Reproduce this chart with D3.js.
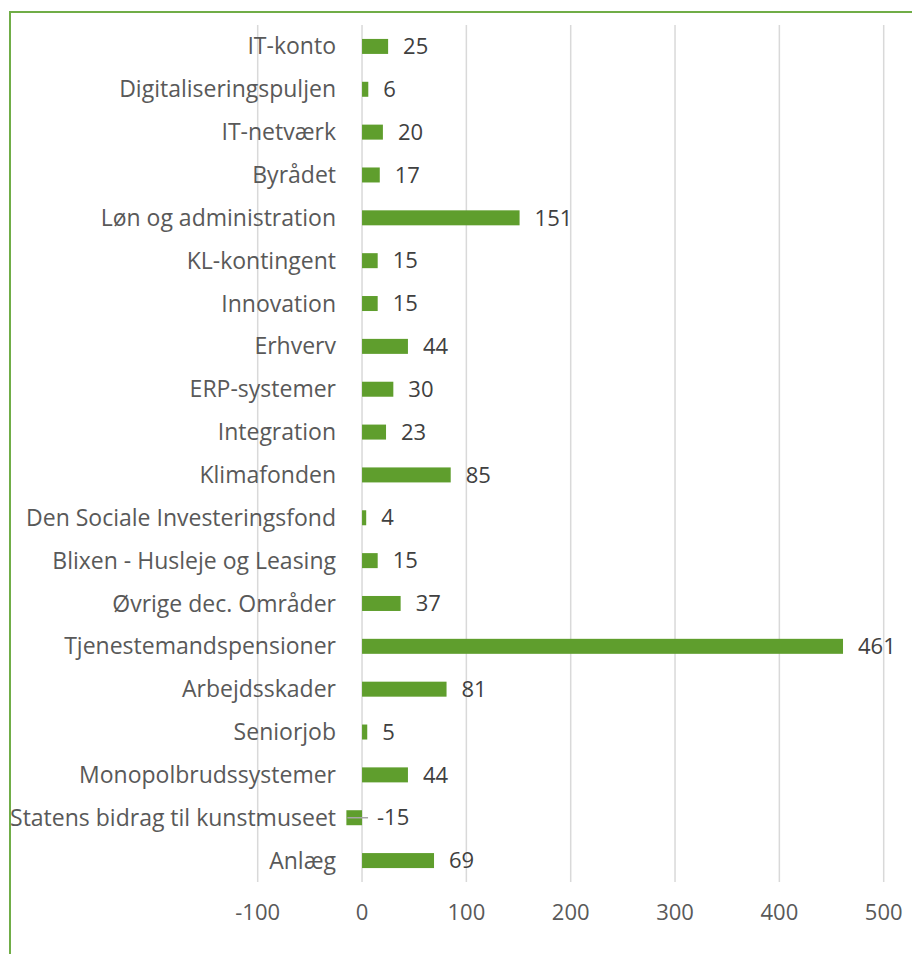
<!DOCTYPE html>
<html>
<head>
<meta charset="utf-8">
<script src="https://cdn.jsdelivr.net/npm/d3@7"></script>
<style>
  body { margin: 0; background: #fff; }
  svg text { font-family: "Open Sans", "Noto Sans", sans-serif; }
</style>
</head>
<body>
<div id="chart"></div>
<script>
var categories = ["IT-konto", "Digitaliseringspuljen", "IT-netværk", "Byrådet", "Løn og administration",
    "KL-kontingent", "Innovation", "Erhverv", "ERP-systemer", "Integration", "Klimafonden",
    "Den Sociale Investeringsfond", "Blixen - Husleje og Leasing", "Øvrige dec. Områder",
    "Tjenestemandspensioner", "Arbejdsskader", "Seniorjob", "Monopolbrudssystemer",
    "Statens bidrag til kunstmuseet", "Anlæg"];
var values = [25, 6, 20, 17, 151, 15, 15, 44, 30, 23, 85, 4, 15, 37, 461, 81, 5, 44, -15, 69];
var xTicks = [-100, 0, 100, 200, 300, 400, 500];

var W = 912, H = 954;

var svg = d3.select("#chart").append("svg")
    .attr("width", W)
    .attr("height", H);

// chart frame (cropped at right and bottom)
svg.append("rect")
    .attr("x", 10).attr("y", 12)
    .attr("width", W + 20).attr("height", H + 20)
    .attr("fill", "none")
    .attr("stroke", "#70ad47")
    .attr("stroke-width", 2);

var scalex = d3.scaleLinear().domain([-100, 500]).range([257.7, 883.7]);
var scaley = d3.scaleBand().domain(categories).range([25, 882]).paddingInner(0.65).paddingOuter(0.325);

// gridlines
svg.append("g").selectAll("line")
    .data(xTicks)
    .enter().append("line")
    .attr("x1", function (d) { return scalex(d); })
    .attr("x2", function (d) { return scalex(d); })
    .attr("y1", 25).attr("y2", 882)
    .attr("stroke", "#d9d9d9")
    .attr("stroke-width", 1.5);

// x tick labels
svg.append("g").selectAll("text")
    .data(xTicks)
    .enter().append("text")
    .attr("x", function (d) { return scalex(d); })
    .attr("y", 920)
    .attr("text-anchor", "middle")
    .attr("font-size", "22px")
    .attr("fill", "#595959")
    .text(function (d) { return d; });

var rows = categories.map(function (c, i) { return { cat: c, value: values[i] }; });

// bars
svg.append("g").selectAll("rect")
    .data(rows)
    .enter().append("rect")
    .attr("x", function (d) { return scalex(Math.min(0, d.value)); })
    .attr("y", function (d) { return scaley(d.cat); })
    .attr("width", function (d) { return Math.abs(scalex(d.value) - scalex(0)); })
    .attr("height", scaley.bandwidth())
    .attr("fill", "#5f9e2d");

// leader line for negative value label
svg.append("g").selectAll("line")
    .data(rows.filter(function (d) { return d.value < 0; }))
    .enter().append("line")
    .attr("x1", function (d) { return scalex(d.value) + 1; })
    .attr("x2", function (d) { return scalex(0) + 6; })
    .attr("y1", function (d) { return scaley(d.cat) + scaley.bandwidth() / 2; })
    .attr("y2", function (d) { return scaley(d.cat) + scaley.bandwidth() / 2; })
    .attr("stroke", "#a6a6a6")
    .attr("stroke-width", 1.5);

// category labels
svg.append("g").selectAll("text")
    .data(rows)
    .enter().append("text")
    .attr("x", 336)
    .attr("y", function (d) { return scaley(d.cat) + scaley.bandwidth() / 2; })
    .attr("dy", "0.35em")
    .attr("text-anchor", "end")
    .attr("font-size", "23px")
    .attr("fill", "#595959")
    .text(function (d) { return d.cat; });

// value labels
svg.append("g").selectAll("text")
    .data(rows)
    .enter().append("text")
    .attr("x", function (d) { return scalex(Math.max(0, d.value)) + 15; })
    .attr("y", function (d) { return scaley(d.cat) + scaley.bandwidth() / 2; })
    .attr("dy", "0.35em")
    .attr("font-size", "22px")
    .attr("fill", "#404040")
    .text(function (d) { return d.value; });
</script>
</body>
</html>
